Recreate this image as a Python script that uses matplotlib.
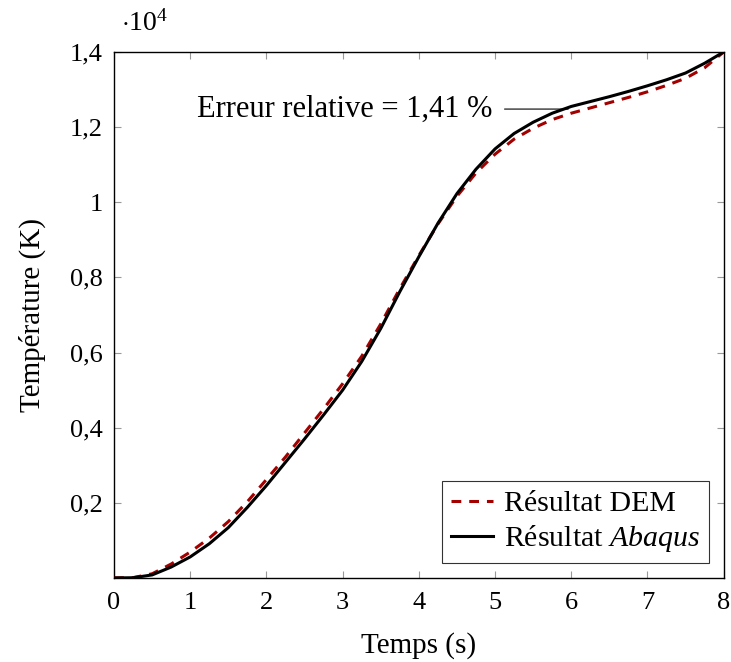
import matplotlib
matplotlib.use("Agg")
import matplotlib.pyplot as plt
from matplotlib.ticker import FixedLocator, FuncFormatter

# temps (s)
t = [0, 0.25, 0.5, 0.75, 1.0, 1.25, 1.5, 1.75, 2.0, 2.25, 2.5, 2.75, 3.0, 3.25,
     3.5, 3.75, 4.0, 4.25, 4.5, 4.75, 5.0, 5.25, 5.5, 5.75, 6.0, 6.25, 6.5,
     6.75, 7.0, 7.25, 7.5, 7.75, 8.0]

# temperature (K) - DEM result
temp_dem = [0, 8, 110, 370, 690, 1060, 1500, 2030, 2620, 3220, 3860, 4500,
            5170, 5900, 6760, 7700, 8580, 9420, 10160, 10780, 11280, 11680,
            11970, 12200, 12370, 12510, 12650, 12790, 12940, 13110, 13300,
            13580, 14000]

# temperature (K) - Abaqus result
temp_abaqus = [0, 5, 80, 290, 560, 910, 1340, 1880, 2460, 3080, 3700, 4340,
               5000, 5760, 6640, 7620, 8550, 9440, 10230, 10880, 11420, 11830,
               12130, 12370, 12550, 12680, 12810, 12950, 13100, 13260, 13440,
               13700, 14000]

x_ticks = [0, 1, 2, 3, 4, 5, 6, 7, 8]
y_ticks = [2000, 4000, 6000, 8000, 10000, 12000, 14000]

error_label = "Erreur relative = 1,41 %"
error_t = 5.96
error_temp = 12480

plt.rcParams['font.family'] = ['Liberation Serif', 'DejaVu Serif']
plt.rcParams['mathtext.fontset'] = 'custom'
plt.rcParams['mathtext.it'] = 'Liberation Serif:italic'
plt.rcParams['mathtext.rm'] = 'Liberation Serif'

fig = plt.figure(figsize=(7.31, 6.62), dpi=100)
ax = fig.add_axes([0.156, 0.127, 0.834, 0.7945])

ax.plot(t, temp_dem, color='#a30000', linewidth=2.2, linestyle=(0, (3.2, 2.6)),
        label='Résultat DEM', zorder=3)
ax.plot(t, temp_abaqus, color='black', linewidth=2.2,
        label=r'Résultat $\it{Abaqus}$', zorder=4)

ax.annotate(error_label, xy=(error_t, error_temp), xytext=(4.96, error_temp),
            ha='right', va='center', fontsize=22,
            arrowprops=dict(arrowstyle='-', color='black', lw=0.8,
                            shrinkA=7, shrinkB=0))

ax.set_xlim(0, 8)
ax.set_ylim(0, 14000)
ax.xaxis.set_major_locator(FixedLocator(x_ticks))
ax.yaxis.set_major_locator(FixedLocator(y_ticks))
ax.yaxis.set_major_formatter(FuncFormatter(
    lambda v, p: ('%g' % (v / 1e4)).replace('.', ',')))
ax.tick_params(direction='in', length=5, width=0.8, color='#999999',
               top=True, right=True, labelsize=19)
ax.tick_params(axis='x', pad=10)
ax.tick_params(axis='y', pad=8)
for s in ax.spines.values():
    s.set_linewidth(1.0)

ax.set_xlabel('Temps (s)', fontsize=21)
ax.set_ylabel('Température (K)', fontsize=21)
ax.xaxis.set_label_coords(0.5, -0.102)
ax.yaxis.set_label_coords(-0.112, 0.5)
ax.text(0.012, 1.03, r'$\cdot 10^4$', transform=ax.transAxes, fontsize=20,
        ha='left', va='bottom')

leg = ax.legend(loc='lower right', fontsize=21.5, frameon=True, fancybox=False,
                edgecolor='black', handlelength=1.4, handletextpad=0.35,
                borderaxespad=0.5, borderpad=0.3, labelspacing=0.2)
leg.get_frame().set_linewidth(0.8)

fig.savefig('out.png', dpi=100)
